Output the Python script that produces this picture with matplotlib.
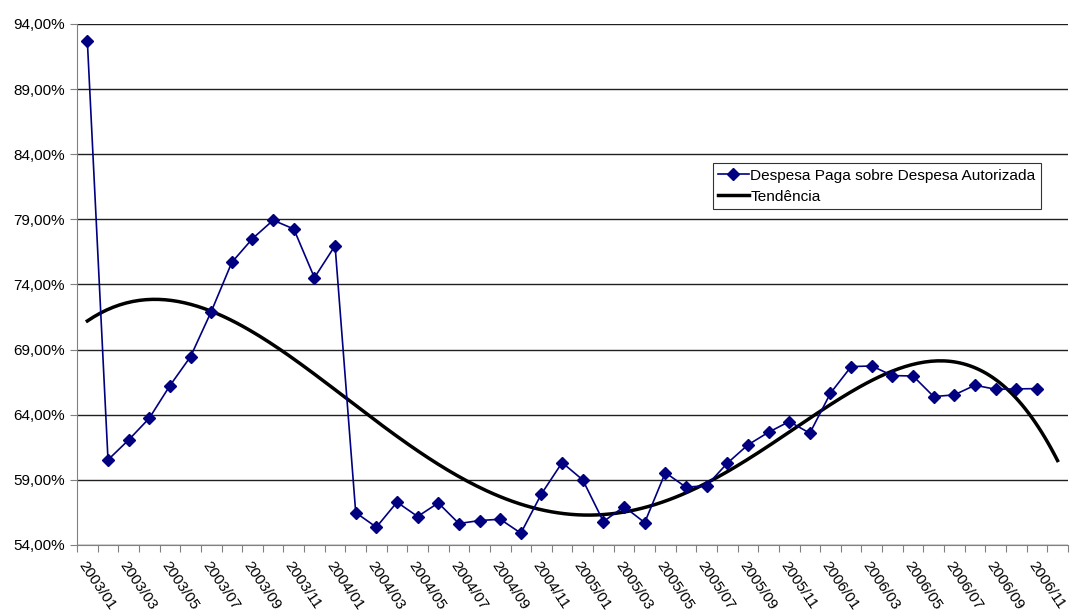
import numpy as np
import matplotlib.pyplot as plt
import matplotlib.transforms as mtransforms
from matplotlib.ticker import FuncFormatter

plt.rcParams['font.family'] = ['Liberation Sans', 'DejaVu Sans']

# monthly categories 2003/01 .. 2006/12
meses = [f"{a}/{m:02d}" for a in range(2003, 2007) for m in range(1, 13)]

# despesa paga / despesa autorizada (%), 2003/01 .. 2006/11
pago = [92.67, 60.53, 62.06, 63.73, 66.23, 68.46, 71.91, 75.70, 77.52, 78.93,
        78.26, 74.52, 76.98, 56.48, 55.36, 57.28, 56.18, 57.22, 55.64, 55.87,
        55.97, 54.90, 57.92, 60.32, 58.99, 55.79, 56.94, 55.71, 59.55, 58.43,
        58.55, 60.27, 61.68, 62.65, 63.47, 62.58, 65.65, 67.69, 67.74, 67.00,
        66.97, 65.39, 65.52, 66.26, 65.95, 65.98, 66.00]

x = np.arange(len(pago))

# polynomial trend, extended over every category
coef = np.polyfit(x + 1, pago, 5)
xt = np.linspace(0, len(meses) - 1, 300)
yt = np.polyval(coef, xt + 1)

fig = plt.figure(figsize=(10.7, 6.15), dpi=100)
ax = fig.add_axes([0.072, 0.114, 0.926, 0.847])

ax.plot(x, pago, color='#000080', lw=1.2, marker='D', ms=6,
        label='Despesa Paga sobre Despesa Autorizada', zorder=3)
ax.plot(xt, yt, color='black', lw=2.5, label='Tendência', zorder=2)

ax.set_xlim(-0.5, len(meses) - 0.5)
ax.set_ylim(54, 94)
ax.set_yticks(np.arange(54, 95, 5))
ax.yaxis.set_major_formatter(FuncFormatter(lambda v, p: f"{v:.2f}%".replace('.', ',')))
ax.grid(axis='y', color='#202020', lw=1)
ax.set_axisbelow(True)

# tick marks between categories, labels every two months
ax.set_xticks(np.arange(-0.5, len(meses), 1))
ax.set_xticklabels([])
ax.set_xticks(x[::2][:len(meses) // 2], minor=True)
ax.set_xticklabels(meses[::2], minor=True, rotation=-56, ha='left', va='top',
                   rotation_mode='anchor', fontsize=11)
shift = mtransforms.ScaledTranslation(4 / 100, 0, fig.dpi_scale_trans)
for lab in ax.get_xticklabels(minor=True):
    lab.set_transform(lab.get_transform() + shift)
ax.tick_params(axis='x', which='minor', length=0, pad=10)
ax.tick_params(axis='x', which='major', length=5, color='#808080')
ax.tick_params(axis='y', length=5, color='#808080', labelsize=11)

for s in ['top', 'right']:
    ax.spines[s].set_visible(False)
for s in ['left', 'bottom']:
    ax.spines[s].set_color('#808080')

leg = ax.legend(loc='upper left', bbox_to_anchor=(0.6415, 0.7326), fontsize=11.1,
                frameon=True, fancybox=False, handlelength=2.0, handletextpad=0.1,
                borderpad=0.35, labelspacing=0.45, borderaxespad=0)
leg.get_frame().set_edgecolor('black')
leg.get_frame().set_linewidth(0.8)

fig.savefig('out.png', dpi=100)
